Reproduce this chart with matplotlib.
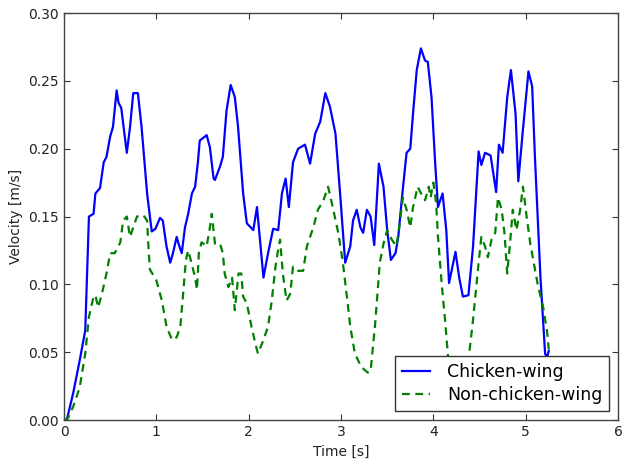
import matplotlib
matplotlib.use("Agg")
import matplotlib.pyplot as plt

# chicken-wing velocity
t_cw = [0.00, 0.03, 0.10, 0.17, 0.23, 0.27, 0.32, 0.34, 0.39, 0.43, 0.46, 0.50, 0.53,
        0.57, 0.59, 0.62, 0.68, 0.715, 0.75, 0.80, 0.84, 0.90, 0.95, 0.99, 1.04, 1.07,
        1.11, 1.15, 1.18, 1.22, 1.245, 1.275, 1.31, 1.345, 1.385, 1.42, 1.45, 1.47,
        1.545, 1.58, 1.62, 1.635, 1.69, 1.72, 1.76, 1.805, 1.85, 1.885, 1.94, 1.98,
        2.05, 2.09, 2.11, 2.16, 2.21, 2.265, 2.32, 2.36, 2.40, 2.435, 2.48, 2.535,
        2.61, 2.665, 2.72, 2.775, 2.83, 2.88, 2.94, 2.99, 3.045, 3.10, 3.13, 3.17,
        3.21, 3.24, 3.28, 3.32, 3.36, 3.41, 3.46, 3.50, 3.54, 3.59, 3.62, 3.66, 3.71,
        3.75, 3.78, 3.82, 3.865, 3.91, 3.94, 3.98, 4.02, 4.05, 4.10, 4.14, 4.17, 4.24,
        4.28, 4.32, 4.38, 4.43, 4.49, 4.52, 4.56, 4.62, 4.68, 4.71, 4.75, 4.80, 4.84,
        4.89, 4.92, 4.97, 5.03, 5.07, 5.10, 5.16, 5.21, 5.23, 5.25]
v_cw = [0.000, 0.000, 0.020, 0.044, 0.066, 0.150, 0.152, 0.167, 0.171, 0.190, 0.194, 0.209, 0.216,
        0.243, 0.234, 0.230, 0.197, 0.216, 0.241, 0.241, 0.216, 0.167, 0.139, 0.141, 0.149, 0.147,
        0.128, 0.116, 0.123, 0.135, 0.129, 0.123, 0.142, 0.152, 0.167, 0.172, 0.190, 0.206,
        0.210, 0.201, 0.178, 0.177, 0.187, 0.194, 0.228, 0.247, 0.238, 0.216, 0.167, 0.145,
        0.140, 0.157, 0.142, 0.105, 0.123, 0.141, 0.140, 0.167, 0.178, 0.157, 0.190, 0.200,
        0.203, 0.189, 0.211, 0.220, 0.241, 0.231, 0.211, 0.167, 0.116, 0.128, 0.147, 0.155,
        0.142, 0.138, 0.155, 0.150, 0.129, 0.189, 0.172, 0.140, 0.118, 0.123, 0.135, 0.164, 0.197,
        0.200, 0.226, 0.258, 0.274, 0.265, 0.264, 0.238, 0.189, 0.157, 0.167, 0.140, 0.101, 0.124,
        0.105, 0.091, 0.092, 0.128, 0.198, 0.188, 0.197, 0.195, 0.168, 0.203, 0.197, 0.238, 0.258,
        0.226, 0.176, 0.214, 0.257, 0.246, 0.194, 0.105, 0.049, 0.046, 0.051]

# non-chicken-wing velocity
t_ncw = [0.00, 0.04, 0.10, 0.17, 0.23, 0.27, 0.32, 0.34, 0.37, 0.41, 0.46, 0.50, 0.55,
         0.61, 0.64, 0.68, 0.715, 0.75, 0.79, 0.86, 0.90, 0.91, 0.93, 1.00, 1.06, 1.11,
         1.17, 1.22, 1.26, 1.29, 1.32, 1.345, 1.38, 1.42, 1.44, 1.46, 1.49, 1.545, 1.58,
         1.60, 1.635, 1.69, 1.72, 1.74, 1.78, 1.82, 1.85, 1.89, 1.92, 1.94, 1.98, 2.03,
         2.07, 2.10, 2.16, 2.21, 2.25, 2.29, 2.30, 2.34, 2.37, 2.41, 2.45, 2.48, 2.535,
         2.59, 2.63, 2.70, 2.75, 2.81, 2.86, 2.91, 2.97, 3.02, 3.06, 3.10, 3.15, 3.22,
         3.29, 3.32, 3.37, 3.42, 3.46, 3.50, 3.55, 3.60, 3.63, 3.67, 3.71, 3.75, 3.78,
         3.83, 3.875, 3.91, 3.95, 3.97, 4.00, 4.03, 4.05, 4.09, 4.13, 4.16, 4.22, 4.30,
         4.38, 4.43, 4.49, 4.52, 4.56, 4.59, 4.63, 4.67, 4.70, 4.74, 4.77, 4.80, 4.83,
         4.86, 4.90, 4.94, 4.97, 5.01, 5.05, 5.09, 5.13, 5.19, 5.23, 5.25]
v_ncw = [0.000, 0.001, 0.010, 0.024, 0.049, 0.076, 0.091, 0.092, 0.083, 0.093, 0.108, 0.123, 0.123,
         0.131, 0.147, 0.150, 0.135, 0.142, 0.150, 0.151, 0.147, 0.133, 0.111, 0.103, 0.088, 0.069,
         0.059, 0.061, 0.069, 0.093, 0.118, 0.125, 0.116, 0.105, 0.096, 0.123, 0.131, 0.128, 0.142,
         0.152, 0.130, 0.130, 0.123, 0.108, 0.098, 0.105, 0.081, 0.108, 0.108, 0.091, 0.086, 0.069,
         0.057, 0.049, 0.059, 0.069, 0.088, 0.113, 0.118, 0.133, 0.108, 0.088, 0.093, 0.113, 0.110,
         0.110, 0.128, 0.142, 0.155, 0.162, 0.172, 0.157, 0.138, 0.116, 0.093, 0.069, 0.049, 0.039,
         0.035, 0.036, 0.071, 0.116, 0.130, 0.140, 0.133, 0.128, 0.142, 0.164, 0.155, 0.142, 0.157,
         0.172, 0.166, 0.162, 0.172, 0.164, 0.175, 0.160, 0.135, 0.101, 0.071, 0.046, 0.030, 0.028,
         0.044, 0.074, 0.116, 0.135, 0.128, 0.120, 0.133, 0.138, 0.164, 0.155, 0.138, 0.108, 0.130,
         0.155, 0.140, 0.155, 0.172, 0.150, 0.130, 0.115, 0.100, 0.083, 0.066, 0.052]

fig = plt.figure(figsize=(6.3, 4.67), dpi=100, facecolor="white")
ax = fig.add_axes([0.1016, 0.1006, 0.8794, 0.8714])

ax.plot(t_cw, v_cw, color="#0000ff", lw=1.6, label="Chicken-wing")
ax.plot(t_ncw, v_ncw, color="#008000", lw=1.6, linestyle="--", dashes=(3.5, 2.5),
        label="Non-chicken-wing")

ax.set_xlim(0, 6)
ax.set_ylim(0, 0.30)
ax.set_xticks([0, 1, 2, 3, 4, 5, 6])
ax.set_yticks([0.00, 0.05, 0.10, 0.15, 0.20, 0.25, 0.30])
ax.set_yticklabels(["0.00", "0.05", "0.10", "0.15", "0.20", "0.25", "0.30"])
ax.tick_params(direction="in", top=True, right=True, labelsize=10, length=4, colors="#333333",
               labelcolor="#222222")
for s in ax.spines.values():
    s.set_color("#444444")
    s.set_linewidth(1.0)

ax.set_xlabel("Time [s]", fontsize=10, color="#222222")
ax.set_ylabel("Velocity [m/s]", fontsize=10, color="#222222")

leg = ax.legend(loc="lower right", fontsize=12.5, fancybox=False, framealpha=1,
                edgecolor="#333333", borderaxespad=0.5, handlelength=1.6,
                handletextpad=1.0, labelspacing=0.3)
leg.get_frame().set_linewidth(1.0)

fig.savefig("out.png", dpi=100, facecolor="white")
